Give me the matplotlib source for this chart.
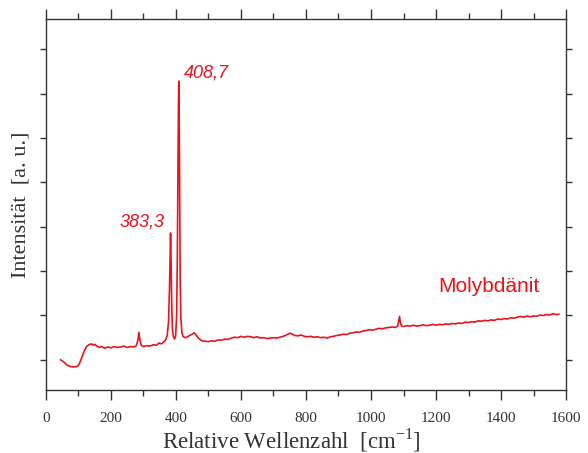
import numpy as np
import matplotlib
matplotlib.use("Agg")
import matplotlib.pyplot as plt
from matplotlib.ticker import MultipleLocator

# Raman-Spektrum Molybdänit, Werte
wellenzahl = [45, 55, 65, 75, 85, 95, 100, 105, 110, 115, 120, 125, 132, 140, 146,
              150, 158, 165, 172, 180, 190, 200, 210, 220, 230, 240, 250, 260, 270,
              278, 283, 286, 289, 293, 300, 310, 320, 330, 340, 348, 355, 362, 368,
              373, 377, 380, 382, 383.3, 385, 387, 389, 392, 396, 399, 402, 404, 406,
              407.5, 408.7, 410, 411.5, 413, 415, 418, 422, 430, 440, 450, 456, 462,
              470, 480, 490, 500, 510, 520, 530, 540, 550, 560, 570, 580, 590, 600,
              610, 620, 630, 640, 650, 660, 670, 680, 690, 700, 710, 720, 730, 740,
              750, 758, 765, 775, 785, 795, 805, 815, 825, 835, 845, 855, 865, 875,
              885, 895, 905, 915, 925, 935, 945, 955, 965, 975, 985, 995, 1005, 1015,
              1025, 1035, 1045, 1055, 1065, 1075, 1082, 1086, 1088, 1090, 1094, 1100,
              1110, 1120, 1130, 1140, 1150, 1160, 1170, 1180, 1190, 1200, 1210, 1220,
              1230, 1240, 1250, 1260, 1270, 1280, 1290, 1300, 1310, 1320, 1330, 1340,
              1350, 1360, 1370, 1380, 1390, 1400, 1410, 1420, 1430, 1440, 1450, 1460,
              1470, 1480, 1490, 1500, 1510, 1520, 1530, 1540, 1550, 1560, 1570, 1578]
intensitaet = [1.00, 0.95, 0.88, 0.85, 0.84, 0.85, 0.88, 0.95, 1.05, 1.15, 1.23, 1.30, 1.34, 1.36, 1.33,
               1.35, 1.30, 1.28, 1.30, 1.26, 1.29, 1.27, 1.30, 1.28, 1.29, 1.31, 1.28, 1.30, 1.29,
               1.32, 1.45, 1.62, 1.45, 1.33, 1.30, 1.32, 1.31, 1.34, 1.33, 1.38, 1.36, 1.40, 1.45,
               1.55, 1.85, 2.60, 3.45, 3.86, 3.20, 2.20, 1.70, 1.52, 1.47, 1.55, 2.00, 3.20, 5.20,
               6.70, 7.28, 6.30, 4.40, 2.80, 1.95, 1.62, 1.52, 1.50, 1.54, 1.58, 1.61, 1.56,
               1.48, 1.43, 1.42, 1.41, 1.43, 1.42, 1.45, 1.44, 1.47, 1.46, 1.49, 1.51, 1.50, 1.53,
               1.51, 1.53, 1.52, 1.50, 1.52, 1.49, 1.50, 1.48, 1.49, 1.50, 1.49, 1.51, 1.53, 1.56,
               1.60, 1.58, 1.55, 1.54, 1.56, 1.53, 1.52, 1.53, 1.51, 1.52, 1.50, 1.51, 1.49, 1.52,
               1.53, 1.55, 1.56, 1.58, 1.57, 1.60, 1.61, 1.63, 1.62, 1.65, 1.66, 1.68, 1.67, 1.69,
               1.71, 1.70, 1.72, 1.73, 1.74, 1.73, 1.76, 1.90, 1.98, 1.85, 1.76, 1.75,
               1.77, 1.76, 1.78, 1.76, 1.77, 1.79, 1.77, 1.78, 1.80, 1.78, 1.80, 1.79,
               1.81, 1.80, 1.82, 1.81, 1.83, 1.82, 1.85, 1.84, 1.86, 1.85, 1.88, 1.87,
               1.89, 1.88, 1.90, 1.89, 1.92, 1.91, 1.93, 1.92, 1.95, 1.94, 1.96, 1.98,
               1.96, 1.99, 1.97, 1.99, 1.98, 2.01, 2.00, 2.02, 2.01, 2.04, 2.02, 2.03]

peaks = [383.3, 408.7]
peak_labels = ["383,3", "408,7"]

plt.rcParams['font.family'] = ['Liberation Serif', 'DejaVu Serif']
plt.rcParams['mathtext.fontset'] = 'custom'
plt.rcParams['mathtext.rm'] = 'Liberation Serif'

rot = '#e8141c'
grau = '#333333'

fig = plt.figure(figsize=(5.88, 4.53), dpi=100)
ax = fig.add_axes([0.0782, 0.139, 0.8844, 0.819])

ax.plot(wellenzahl, intensitaet, color=rot, lw=1.2)

# Beschriftung der Peaks
ax.text(227, 4.01, peak_labels[0], color=rot, fontsize=13, style='italic',
        family='Liberation Sans', va='baseline')
ax.text(423, 7.36, peak_labels[1], color=rot, fontsize=13, style='italic',
        family='Liberation Sans', va='baseline')
ax.text(1207, 2.52, "Molybdänit", color=rot, fontsize=15,
        family='Liberation Sans', va='baseline')

ax.set_xlim(0, 1600)
ax.set_ylim(0.32, 8.68)
ax.xaxis.set_major_locator(MultipleLocator(200))
ax.xaxis.set_minor_locator(MultipleLocator(100))
ax.set_yticks(np.arange(1, 9))
ax.set_yticklabels([])

ax.tick_params(axis='x', which='major', direction='out', length=7.5, width=1,
               top=True, colors=grau, labelsize=11, pad=8)
ax.tick_params(axis='x', which='minor', direction='out', length=4, width=1, top=True,
               colors=grau)
ax.tick_params(axis='y', which='major', direction='out', length=4.3, width=1,
               right=True, colors=grau)
for s in ax.spines.values():
    s.set_color(grau)
    s.set_linewidth(1.0)

ax.set_xlabel(r"Relative Wellenzahl  [cm$^{\mathrm{-1}}$]", fontsize=16.5, color=grau, labelpad=0)
ax.xaxis.set_label_coords(0.472, -0.098)
ax.xaxis.label.set_va('top')
ax.set_ylabel("Intensität  [a. u.]", fontsize=16, color=grau, labelpad=3)

fig.savefig("out.png", dpi=100)
